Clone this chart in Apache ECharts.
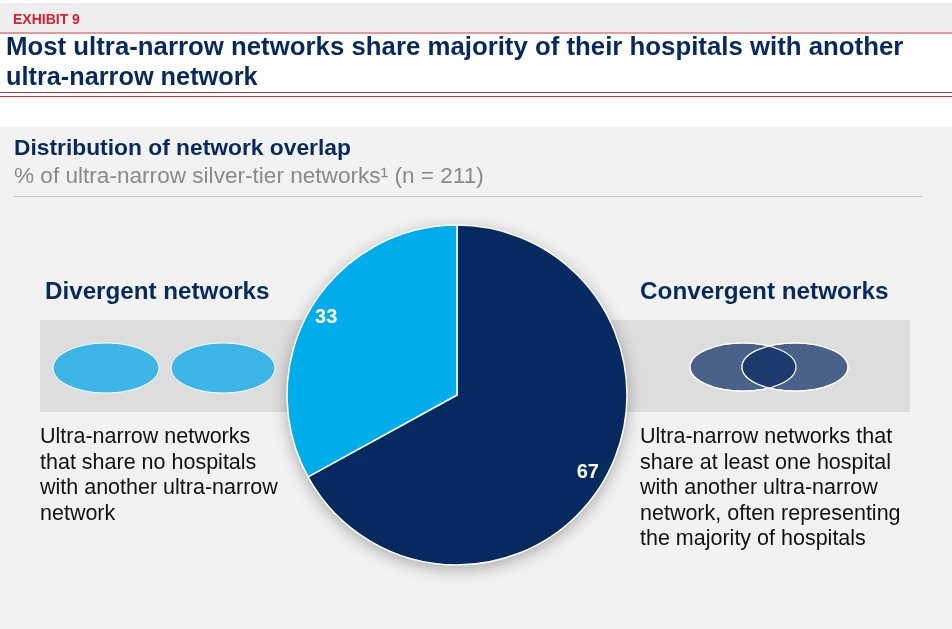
<!DOCTYPE html>
<html>
<head>
<meta charset="utf-8">
<script src="https://cdn.jsdelivr.net/npm/echarts@6/dist/echarts.min.js"></script>
<style>
  html, body { margin: 0; padding: 0; background: #ffffff; }
  #chart { width: 952px; height: 629px; }
</style>
</head>
<body>
<div id="chart"></div>
<script>
// Share of ultra-narrow silver-tier networks by overlap type (%)
const categories = ['Convergent networks', 'Divergent networks'];
const shares = [67, 33];

const exhibitLabel = 'EXHIBIT 9';
const headlineLines = [
  'Most ultra-narrow networks share majority of their hospitals with another',
  'ultra-narrow network'
];
const chartTitle = 'Distribution of network overlap';
const chartSubtitle = '% of ultra-narrow silver-tier networks\u00B9 (n = 211)';
const leftHeading = 'Divergent networks';
const rightHeading = 'Convergent networks';
const leftText = [
  'Ultra-narrow networks',
  'that share no hospitals',
  'with another ultra-narrow',
  'network'
];
const rightText = [
  'Ultra-narrow networks that',
  'share at least one hospital',
  'with another ultra-narrow',
  'network, often representing',
  'the majority of hospitals'
];

const NAVY = '#062a5f';
const SKY = '#00adeb';
const FONT = '"Liberation Sans", Arial, sans-serif';

const chart = echarts.init(document.getElementById('chart'), null, { renderer: 'canvas' });

// Lens outline where the two convergent ellipses overlap
const ecx1 = 743, ecx2 = 795, ecy = 367, erx = 53, ery = 24;
function lensPoints() {
  const pts = [];
  const steps = 40;
  // right-hand ellipse, its left arc (inside the left ellipse)
  const tMax = Math.acos(((ecx1 + ecx2) / 2 - ecx2) / erx);
  for (let i = 0; i <= steps; i++) {
    const t = tMax + ((2 * Math.PI - 2 * tMax) * i) / steps;
    pts.push([ecx2 + erx * Math.cos(t), ecy - ery * Math.sin(t)]);
  }
  // left-hand ellipse, its right arc
  const sMax = Math.acos(((ecx1 + ecx2) / 2 - ecx1) / erx);
  for (let i = 0; i <= steps; i++) {
    const s = -sMax + (2 * sMax * i) / steps;
    pts.push([ecx1 + erx * Math.cos(s), ecy - ery * Math.sin(s)]);
  }
  return pts;
}

const graphics = [
  // page background panels
  { type: 'rect', z: 0, shape: { x: 0, y: 3, width: 952, height: 29.5 }, style: { fill: '#eeeeee' } },
  { type: 'rect', z: 0, shape: { x: 0, y: 127, width: 952, height: 502 }, style: { fill: '#f2f2f2' } },
  { type: 'line', z: 1, shape: { x1: 0, y1: 33, x2: 952, y2: 33 }, style: { stroke: '#e07a7e', lineWidth: 1.5 } },
  { type: 'line', z: 1, shape: { x1: 0, y1: 92.5, x2: 952, y2: 92.5 }, style: { stroke: '#c0343a', lineWidth: 1 } },
  { type: 'line', z: 1, shape: { x1: 0, y1: 96.5, x2: 952, y2: 96.5 }, style: { stroke: '#e3262e', lineWidth: 1.2 } },
  { type: 'text', z: 2, style: { text: exhibitLabel, x: 13, y: 20, fill: '#d9202f', font: 'bold 14px ' + FONT, verticalAlign: 'middle' } },
  { type: 'text', z: 2, style: { text: headlineLines[0], x: 6, y: 48, fill: NAVY, font: 'bold 25.8px ' + FONT, verticalAlign: 'middle' } },
  { type: 'text', z: 2, style: { text: headlineLines[1], x: 6, y: 78, fill: NAVY, font: 'bold 25.3px ' + FONT, verticalAlign: 'middle' } },

  // chart heading
  { type: 'text', z: 2, style: { text: chartTitle, x: 14, y: 149, fill: NAVY, font: 'bold 22.8px ' + FONT, verticalAlign: 'middle' } },
  { type: 'text', z: 2, style: { text: chartSubtitle, x: 14, y: 177, fill: '#8a8a8a', font: '22.6px ' + FONT, verticalAlign: 'middle' } },
  { type: 'line', z: 1, shape: { x1: 14, y1: 196.5, x2: 922, y2: 196.5 }, style: { stroke: '#c6c6c6', lineWidth: 1 } },

  // band behind the icons
  { type: 'rect', z: 1, shape: { x: 40, y: 320, width: 870, height: 92 }, style: { fill: '#dddddd' } },

  // divergent icon: two separate ellipses
  { type: 'ellipse', z: 2, shape: { cx: 106, cy: 368, rx: 53, ry: 25 }, style: { fill: '#3db5e6', stroke: '#ffffff', lineWidth: 1 } },
  { type: 'ellipse', z: 2, shape: { cx: 223, cy: 368, rx: 52, ry: 25 }, style: { fill: '#3db5e6', stroke: '#ffffff', lineWidth: 1 } },

  // convergent icon: two overlapping ellipses
  { type: 'ellipse', z: 2, shape: { cx: ecx1, cy: ecy, rx: erx, ry: ery }, style: { fill: '#4a6189', stroke: '#ffffff', lineWidth: 1.2 } },
  { type: 'ellipse', z: 2, shape: { cx: ecx2, cy: ecy, rx: erx, ry: ery }, style: { fill: '#4a6189', stroke: '#ffffff', lineWidth: 1.2 } },
  { type: 'polygon', z: 3, shape: { points: lensPoints() }, style: { fill: '#1c3a6e' } },
  { type: 'ellipse', z: 4, shape: { cx: ecx1, cy: ecy, rx: erx, ry: ery }, style: { fill: 'none', stroke: '#ffffff', lineWidth: 1.2 } },
  { type: 'ellipse', z: 4, shape: { cx: ecx2, cy: ecy, rx: erx, ry: ery }, style: { fill: 'none', stroke: '#ffffff', lineWidth: 1.2 } },

  // side headings and descriptions
  { type: 'text', z: 2, style: { text: leftHeading, x: 45, y: 292, fill: NAVY, font: 'bold 24.2px ' + FONT, verticalAlign: 'middle' } },
  { type: 'text', z: 2, style: { text: rightHeading, x: 640, y: 292, fill: NAVY, font: 'bold 24.3px ' + FONT, verticalAlign: 'middle' } },
  { type: 'text', z: 2, style: { text: leftText.join('\n'), x: 40, y: 424.5, fill: '#111111', font: '21.5px ' + FONT, lineHeight: 25.5, verticalAlign: 'top' } },
  { type: 'text', z: 2, style: { text: rightText.join('\n'), x: 640, y: 424.5, fill: '#111111', font: '21.5px ' + FONT, lineHeight: 25.5, verticalAlign: 'top' } }
];

const pieData = categories.map((name, i) => ({ name: name, value: shares[i] }));
const total = shares.reduce((a, b) => a + b, 0);

const PIE_CENTER = [457, 395];
const PIE_R = 170;

chart.setOption({
  animation: false,
  backgroundColor: 'transparent',
  graphic: { elements: graphics },
  series: [
    {
      // full disc underneath that casts the drop shadow
      type: 'pie',
      z: 4,
      center: PIE_CENTER,
      radius: [0, PIE_R],
      silent: true,
      label: { show: false },
      labelLine: { show: false },
      itemStyle: {
        color: '#ffffff',
        borderWidth: 0,
        shadowBlur: 16,
        shadowOffsetY: 4,
        shadowColor: 'rgba(0,0,0,0.32)'
      },
      data: [{ name: 'All networks', value: total }]
    },
    {
      type: 'pie',
      z: 5,
      center: PIE_CENTER,
      radius: [0, PIE_R],
      startAngle: 90,
      clockwise: true,
      silent: true,
      label: { show: false },
      labelLine: { show: false },
      itemStyle: {
        borderColor: '#ffffff',
        borderWidth: 1.5
      },
      color: [NAVY, SKY],
      data: pieData
    },
    {
      // value labels placed near the rim
      type: 'pie',
      z: 6,
      center: PIE_CENTER,
      radius: [128, PIE_R],
      startAngle: 90,
      clockwise: true,
      silent: true,
      itemStyle: { color: 'rgba(0,0,0,0)' },
      label: {
        show: true,
        position: 'inside',
        formatter: '{c}',
        color: '#ffffff',
        fontFamily: FONT,
        fontWeight: 'bold',
        fontSize: 20
      },
      labelLine: { show: false },
      data: pieData
    }
  ]
});
</script>
</body>
</html>
